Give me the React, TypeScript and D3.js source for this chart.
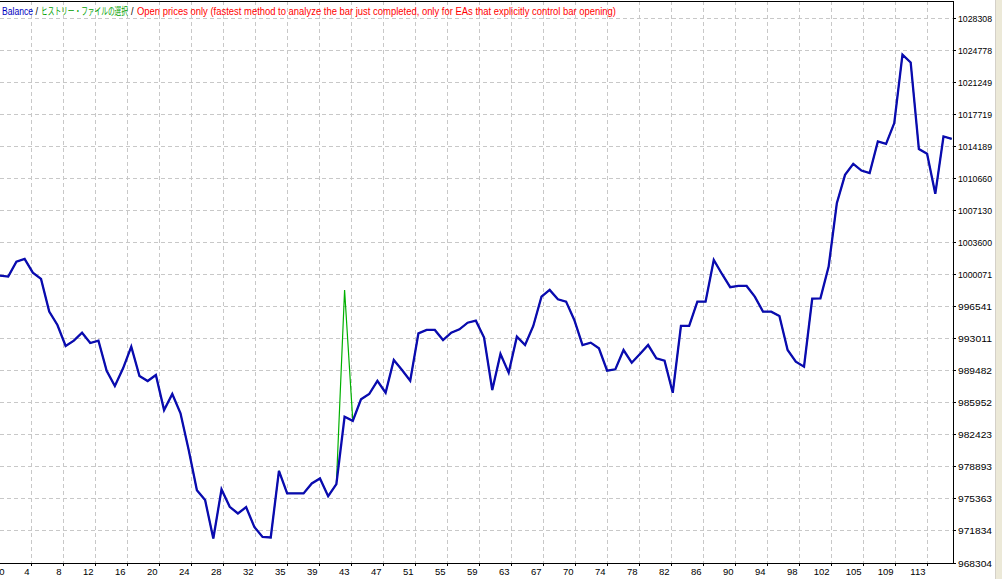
import * as d3 from 'd3'

// balance after each trade
const BALANCE = [
  999920, 999810, 1001460, 1001760, 1000250, 999550, 995950, 994480, 992160, 992750,
  993630, 992490, 992750, 989440, 987750, 989700, 992090, 988850, 988300, 988960,
  985100, 986870, 984740, 980690, 976280, 975180, 970950, 976360, 974440, 973710,
  974400, 972230, 971130, 971060, 978410, 975920, 975920, 975920, 977020, 977570,
  975620, 976940, 984360, 983920, 986280, 986870, 988330, 987010, 990620, 989520,
  988330, 993560, 993930, 993930, 992820, 993630, 994000, 994730, 994950, 993100,
  987310, 991280, 989220, 993190, 992270, 994370, 997600, 998340, 997310, 997050,
  995030, 992270, 992530, 991910, 989440, 989590, 991720, 990320, 991280, 992270,
  990810, 990540, 987010, 994370, 994370, 997050, 997050, 1001650, 1000100, 998640,
  998780, 998780, 997600, 995950, 995950, 995470, 991720, 990430, 989880, 997380,
  997420, 1000910, 1007900, 1011020, 1012240, 1011500, 1011210, 1014700, 1014440, 1016730,
  1024260, 1023410, 1013860, 1013340, 1008930, 1015250, 1014990,
]

// equity equals balance except where it was visibly different
const EQUITY_TRADES = [42]
const EQUITY_VALUES = [998340]

const Y_TICKS = [
  1028308, 1024778, 1021249, 1017719, 1014189, 1010660, 1007130, 1003600, 1000071,
  996541, 993011, 989482, 985952, 982423, 978893, 975363, 971834, 968304,
]

const X_TICK_LABELS = [
  '0', '4', '8', '12', '16', '20', '24', '28', '32', '35', '39', '43', '47', '51', '55',
  '59', '63', '67', '70', '74', '78', '82', '86', '90', '94', '98', '102', '105', '109', '113',
]

const LEGEND_PARTS = [
  { text: 'Balance', color: '#0000c0', x: 2, w: 31 },
  { text: '/', color: '#000000', x: 35.5, w: 2.5 },
  { text: 'ヒストリー・ファイルの選択', color: '#00a000', x: 41, w: 87 },
  { text: '/', color: '#000000', x: 131, w: 2.5 },
  {
    text: 'Open prices only (fastest method to analyze the bar just completed, only for EAs that explicitly control bar opening)',
    color: '#ff0000', x: 137, w: 479,
  },
]

const W = 1002
const H = 579
const PLOT = { left: 0, top: 1, right: 953, bottom: 563 }
const FONT = '"Liberation Sans", Arial, sans-serif'

export default function App() {
  const x = d3.scaleLinear().domain([0, BALANCE.length - 1]).range([0, 951.7])
  const y = d3.scaleLinear().domain([968304, 1028308]).range([562.5, 18])
  const gridX = d3.scaleLinear().domain([1, X_TICK_LABELS.length - 1]).range([30.7, 926.7])

  const equity = BALANCE.map((v, i) => {
    const j = EQUITY_TRADES.indexOf(i)
    return j >= 0 ? EQUITY_VALUES[j] : v
  })

  const line = d3.line<number>()
    .x((_, i) => x(i))
    .y((d) => y(d))

  return (
    <svg width={W} height={H} style={{ position: 'absolute', left: 0, top: 0, background: '#fff' }}>
      <rect x={0} y={0} width={W} height={H} fill="#ffffff" />

      {/* grid */}
      <g stroke="#c8c8c8" strokeWidth={1} strokeDasharray="4,3">
        {Y_TICKS.slice(0, -1).map((t) => (
          <line key={t} x1={0} x2={PLOT.right} y1={Math.round(y(t)) + 0.5} y2={Math.round(y(t)) + 0.5} />
        ))}
        {X_TICK_LABELS.slice(1).map((_, k) => {
          const gx = Math.round(gridX(k + 1)) + 0.5
          return <line key={k} x1={gx} x2={gx} y1={PLOT.top} y2={PLOT.bottom} />
        })}
      </g>

      {/* equity then balance */}
      <path d={line(equity) ?? ''} fill="none" stroke="#00b000" strokeWidth={1.2} />
      <path d={line(BALANCE) ?? ''} fill="none" stroke="#0a0ab0" strokeWidth={2.3} />

      {/* frame */}
      <g stroke="#000" strokeWidth={1} shapeRendering="crispEdges">
        <line x1={0} x2={PLOT.right + 0.5} y1={PLOT.top + 0.5} y2={PLOT.top + 0.5} />
        <line x1={PLOT.right + 0.5} x2={PLOT.right + 0.5} y1={PLOT.top} y2={PLOT.bottom + 1} />
        <line x1={0} x2={PLOT.right + 0.5} y1={PLOT.bottom + 0.5} y2={PLOT.bottom + 0.5} />
      </g>

      {/* y axis */}
      <g fontFamily={FONT} fontSize={9.5} fill="#000">
        {Y_TICKS.map((t) => {
          const ty = Math.round(y(t)) + 0.5
          return (
            <g key={t}>
              <line x1={PLOT.right} x2={PLOT.right + 3} y1={ty} y2={ty} stroke="#000" shapeRendering="crispEdges" />
              <text x={958} y={ty} dy="0.35em" textLength={34} lengthAdjust="spacingAndGlyphs">{t}</text>
            </g>
          )
        })}
      </g>

      {/* x axis */}
      <g fontFamily={FONT} fontSize={9.5} fill="#000">
        {X_TICK_LABELS.map((lab, k) => {
          if (k === 0) {
            return <text key={k} x={2} y={575} textAnchor="middle">{lab}</text>
          }
          const gx = Math.round(gridX(k)) + 0.5
          return (
            <g key={k}>
              <line x1={gx} x2={gx} y1={PLOT.bottom} y2={PLOT.bottom + 3} stroke="#000" shapeRendering="crispEdges" />
              <text x={gx - 2} y={575} textAnchor="end">{lab}</text>
            </g>
          )
        })}
      </g>

      {/* legend, one text so the parts sit side by side */}
      <text y={15} fontFamily={`"Liberation Sans", Arial, "Noto Sans CJK JP", sans-serif`} fontSize={10}>
        {LEGEND_PARTS.map((p, i) => (
          <tspan key={i} x={p.x} fill={p.color} textLength={p.w} lengthAdjust="spacingAndGlyphs">
            {p.text}
          </tspan>
        ))}
      </text>

      {/* window edge on the right */}
      <line x1={995.5} x2={995.5} y1={0} y2={H} stroke="#d4d0c8" />
      <rect x={996} y={0} width={6} height={H} fill="#ece9d8" />
    </svg>
  )
}
